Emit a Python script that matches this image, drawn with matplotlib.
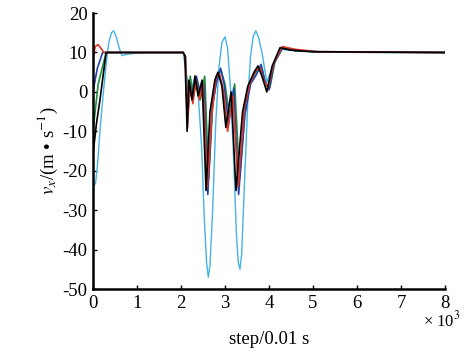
import numpy as np
import matplotlib.pyplot as plt

plt.rcParams['font.family'] = ['Liberation Serif', 'DejaVu Serif']
plt.rcParams['mathtext.fontset'] = 'stix'
plt.rcParams['axes.unicode_minus'] = False

# step (x 10^3), speed v_x (m/s)
x_black = [0.0, 0.08, 0.16, 0.3, 2.05, 2.09, 2.14, 2.18, 2.25, 2.32, 2.39, 2.48, 2.57, 2.66, 2.77, 2.84, 2.93, 3.02, 3.14, 3.25, 3.4, 3.52, 3.66, 3.75, 3.84, 3.95, 4.07, 4.25, 4.5, 5.0, 8.0]
y_black = [-16, -8, -2, 10, 10, 9.2, -10, 3, -2, 4, -1, 3, -25, -5, 3, 5, 1.5, -9, 0, -25, -5, 1.5, 5, 6.6, 4, 0, 6.5, 11.2, 10.6, 10.2, 10]

x_red = [0.0, 0.05, 0.12, 0.25, 2.05, 2.1, 2.15, 2.2, 2.27, 2.34, 2.42, 2.5, 2.6, 2.7, 2.8, 2.88, 2.97, 3.06, 3.18, 3.3, 3.44, 3.56, 3.7, 3.8, 3.88, 3.98, 4.1, 4.3, 4.6, 5.1, 8.0]
y_red = [8, 11.5, 12, 10, 10, 8.5, -9, 2, -3, 3, -2, 2, -24, -6, 4, 4.5, 0, -10, -1, -24, -4, 2, 5.5, 6, 3, 1, 7, 11.5, 10.8, 10.2, 10]

x_blue = [0.0, 0.1, 0.22, 2.05, 2.1, 2.15, 2.2, 2.27, 2.35, 2.43, 2.52, 2.61, 2.71, 2.8, 2.9, 2.98, 3.08, 3.2, 3.31, 3.45, 3.58, 3.72, 3.82, 3.9, 4.0, 4.12, 4.3, 4.6, 5.2, 8.0]
y_blue = [0, 6, 10, 10, 9, -7, 2, -1, 4, 0, 2, -26, -4, 2, 6, 2, -8, 1, -26, -6, 2, 4.5, 7, 3, 0.5, 7.5, 11, 10.5, 10.1, 10]

x_green = [0.0, 0.12, 0.3, 2.05, 2.1, 2.16, 2.21, 2.28, 2.36, 2.44, 2.54, 2.63, 2.72, 2.82, 2.91, 3.0, 3.1, 3.22, 3.33, 3.47, 3.6, 3.73, 3.84, 3.92, 4.02, 4.14, 4.32, 4.6, 5.2, 8.0]
y_green = [-10, 2, 10, 10, 9, -5, 4, -1, 3, -2, 4, -22, -3, 4, 5.5, 2, -6, 2, -22, -3, 3, 5.5, 6, 2, 1, 8, 11.4, 10.4, 10.1, 10]

x_cyan = [0.02, 0.06, 0.1, 0.16, 0.23, 0.3, 0.36, 0.42, 0.47, 0.53, 0.6, 0.66, 0.8, 1.2, 2.05, 2.11, 2.2, 2.32, 2.4, 2.47, 2.53, 2.58, 2.62, 2.66, 2.72, 2.79, 2.86, 2.93, 3.0, 3.06, 3.13, 3.2, 3.26, 3.3, 3.34, 3.38, 3.44, 3.52, 3.58, 3.64, 3.7, 3.76, 3.84, 3.95, 4.09, 4.3, 4.7, 8.0]
y_cyan = [-24, -23, -19, -10, -1, 7, 12.5, 15, 15.5, 14, 11, 9.2, 9.6, 10, 10, 5.5, -1, 4, -2, -14, -32, -43, -47, -44, -30, -8, 6, 12.5, 14, 11, 0, -18, -36, -43, -45, -41, -24, -2, 9, 14, 15.5, 14, 10, 2.5, 6.5, 10.8, 10.3, 10]

fig = plt.figure(figsize=(4.67, 3.53), dpi=100)
ax = fig.add_axes([0.199, 0.181, 0.754, 0.782])

ax.plot(x_cyan, y_cyan, color='#45b4e3', lw=1.0)
ax.plot(x_green, y_green, color='#1e8c3c', lw=1.2)
ax.plot(x_blue, y_blue, color='#2342a8', lw=1.2)
ax.plot(x_red, y_red, color='#e0352b', lw=1.2)
ax.plot(x_black, y_black, color='black', lw=1.2)

ax.set_xlim(0, 8)
ax.set_ylim(-50, 20)
ax.set_xticks(range(0, 9))
ax.set_yticks(range(-50, 21, 10))
ax.spines['top'].set_visible(False)
ax.spines['right'].set_visible(False)
ax.spines['left'].set_linewidth(1.8)
ax.spines['bottom'].set_linewidth(1.8)
ax.tick_params(direction='in', length=3, width=1, labelsize=13.5, pad=4)

ax.set_xlabel('step/0.01 s', fontsize=13.5, labelpad=14)
ax.set_ylabel(r'$v_x$/(m • s$^{-1}$)', fontsize=13.5, labelpad=2)
fig.text(0.945, 0.075, r'× 10$^3$', fontsize=12, ha='center')

fig.savefig('out.png', dpi=100)
